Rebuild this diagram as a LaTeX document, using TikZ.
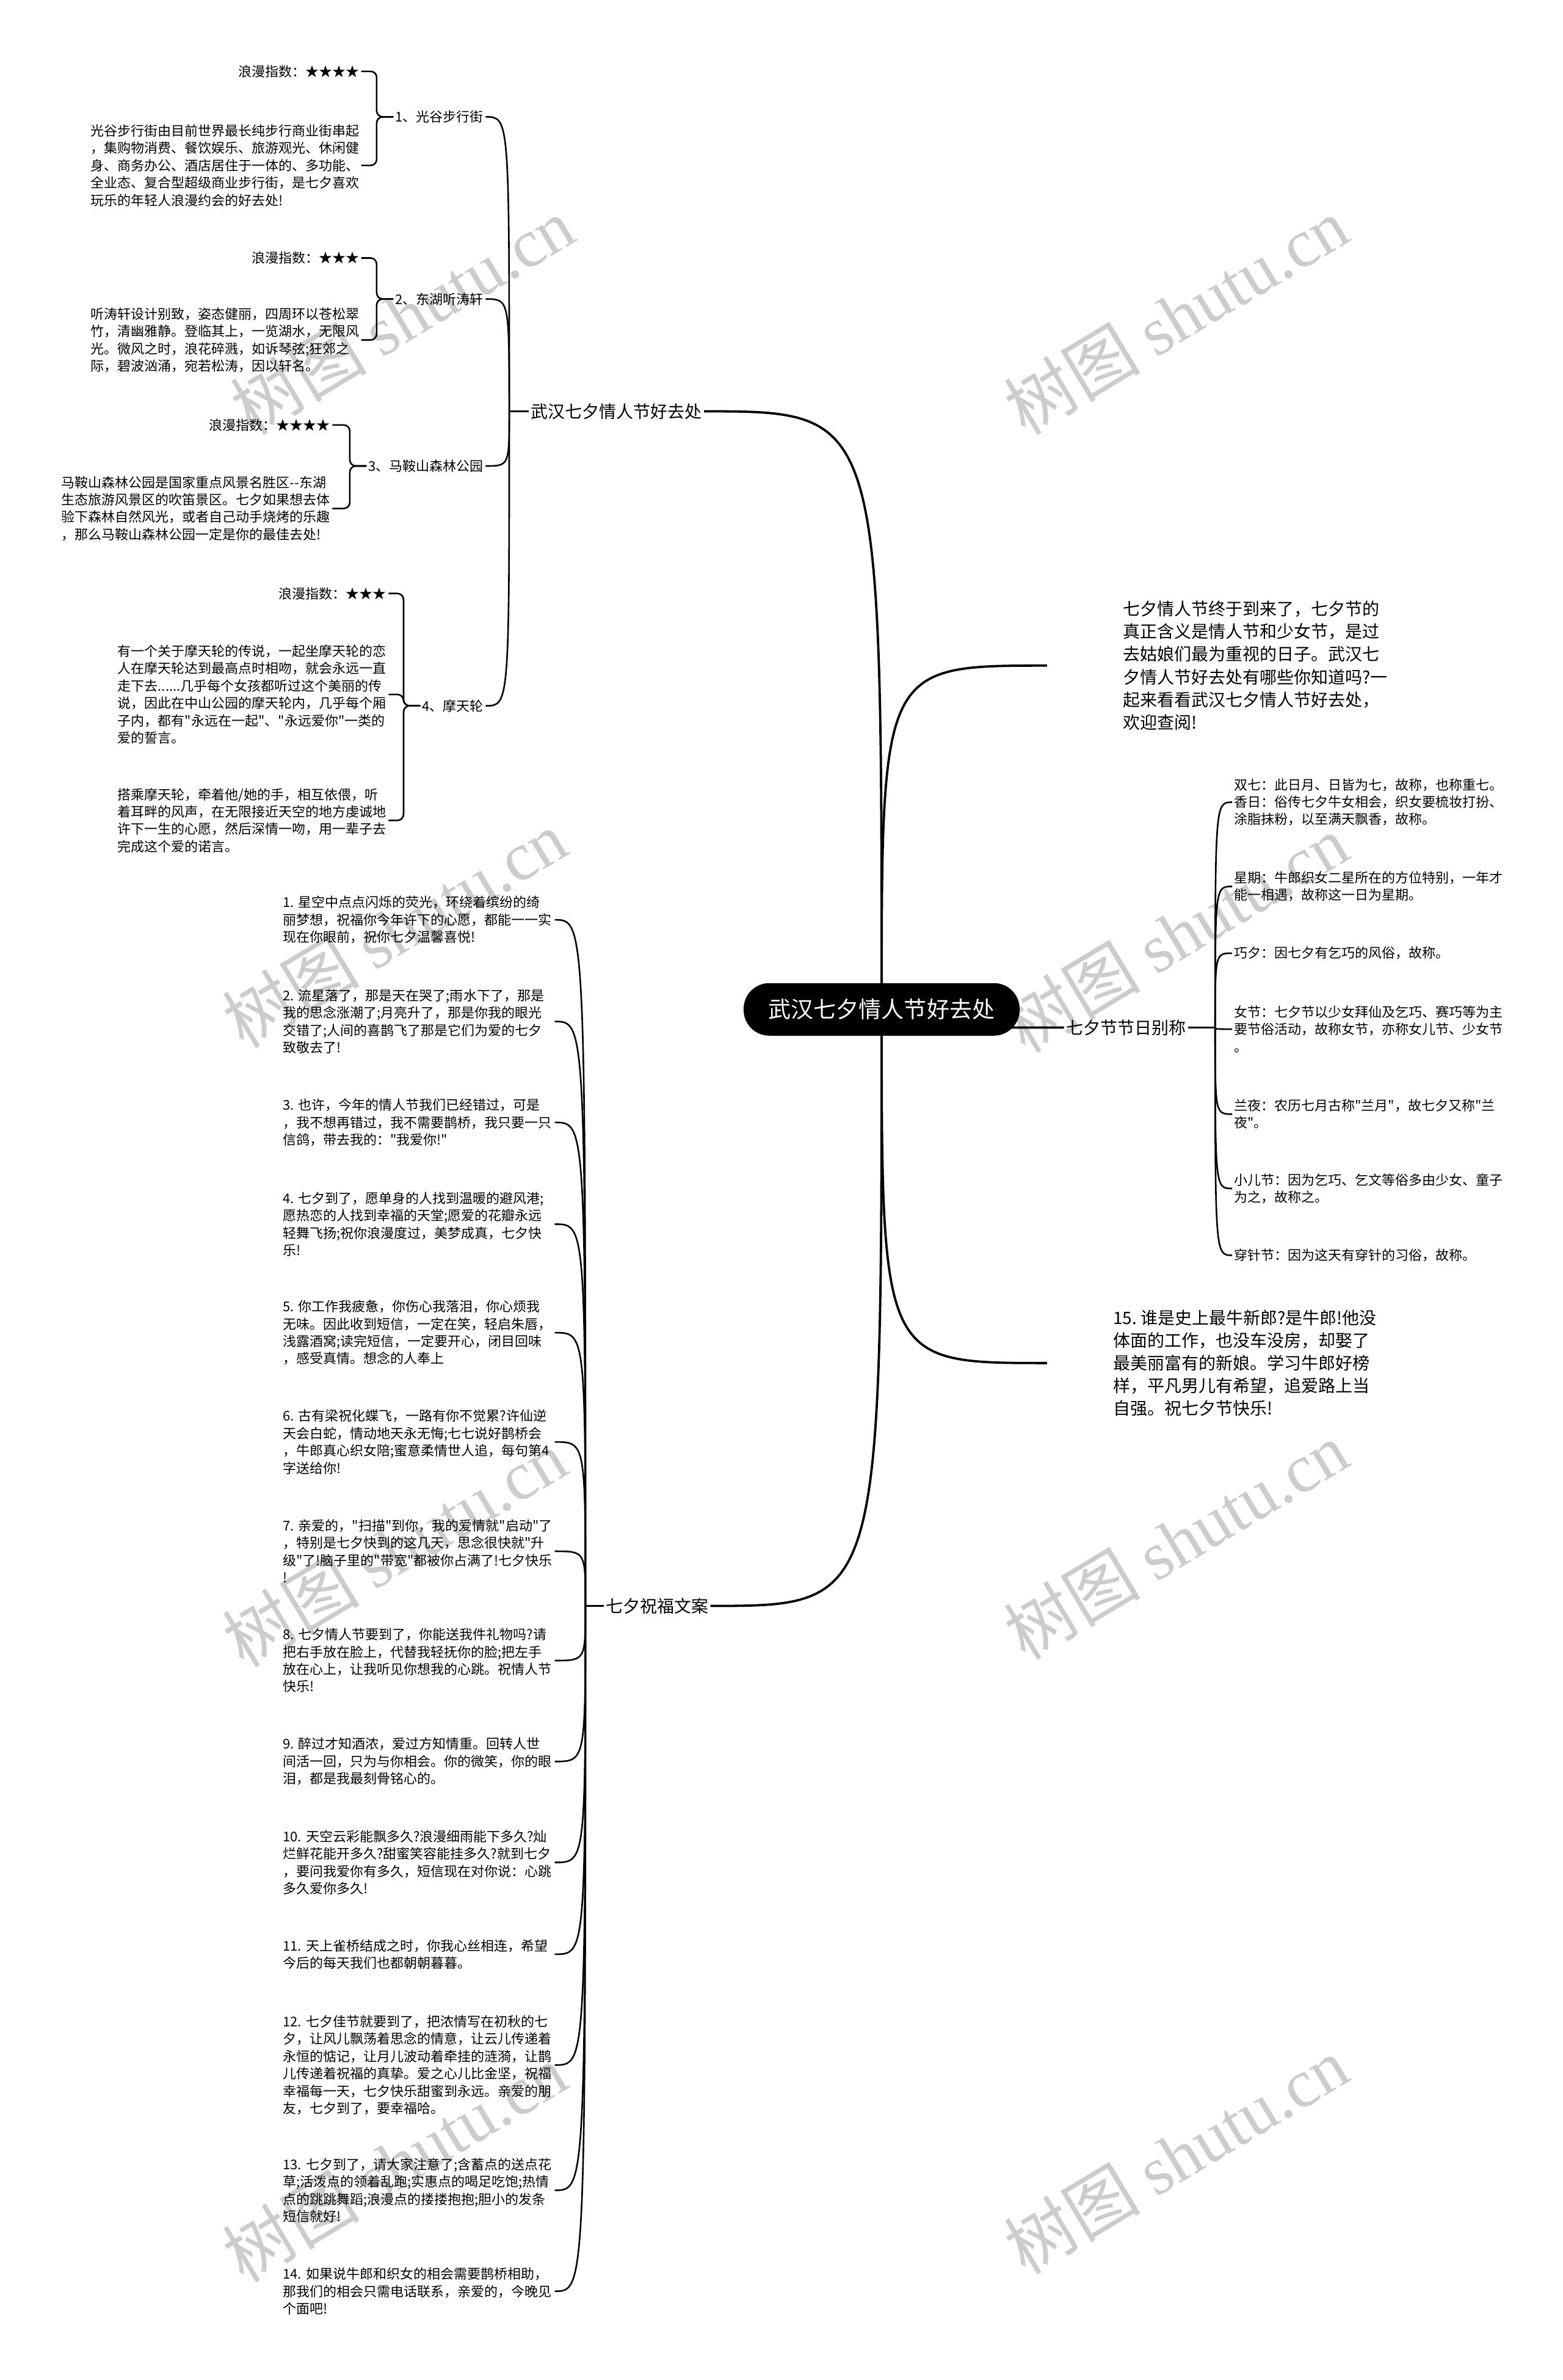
\documentclass[tikz,border=0pt]{standalone}
\usepackage{fontspec}
\setmainfont{Noto Sans CJK SC}[Ligatures=TeXOff]
\newfontfamily\wmlatin{Liberation Serif}
\usetikzlibrary{calc,backgrounds}

\begin{document}
\begin{tikzpicture}[x=1.2425pt, y=-1.2425pt,
  root/.style={fill=black, text=white, rounded corners=21pt, minimum width=226pt,
    minimum height=43pt, inner sep=0pt, font=\fontsize{18.5pt}{22pt}\selectfont},
  lvone/.style={align=left, inner sep=1.5pt, font=\fontsize{14pt}{18.6pt}\selectfont},
  leaf/.style={align=left, inner sep=1.5pt, font=\fontsize{11pt}{14.2pt}\selectfont},
  wish/.style={leaf, anchor=west, text width=221pt},
  mainline/.style={line width=1.9pt},
  subline/.style={line width=1.3pt},
  bracket/.style={line width=1.3pt, rounded corners=5pt},
  wmark/.style={text=black!20, rotate=31, font=\fontsize{56pt}{60pt}\selectfont}]
\useasboundingbox (0,0) rectangle (1030,1568);

%%%%% Root %%%%%
\node[root] (root) at (581,665) {武汉七夕情人节好去处};

%%%%% Left top: places %%%%%
\node[lvone, anchor=east] (wh) at (464,271) {武汉七夕情人节好去处};

\node[leaf, anchor=east] (g1) at (320,77) {1、光谷步行街};
\node[leaf, anchor=east] (r1s) at (238,47) {浪漫指数：★★★★};
\node[leaf, anchor=east] (r1t) at (238,109) {光谷步行街由目前世界最长纯步行商业街串起\\，集购物消费、餐饮娱乐、旅游观光、休闲健\\身、商务办公、酒店居住于一体的、多功能、\\全业态、复合型超级商业步行街，是七夕喜欢\\玩乐的年轻人浪漫约会的好去处!};

\node[leaf, anchor=east] (g2) at (320,197) {2、东湖听涛轩};
\node[leaf, anchor=east] (r2s) at (238,170) {浪漫指数：★★★};
\node[leaf, anchor=east] (r2t) at (238,224) {听涛轩设计别致，姿态健丽，四周环以苍松翠\\竹，清幽雅静。登临其上，一览湖水，无限风\\光。微风之时，浪花碎溅，如诉琴弦;狂郊之\\际，碧波汹涌，宛若松涛，因以轩名。};

\node[leaf, anchor=east] (g3) at (320,307) {3、马鞍山森林公园};
\node[leaf, anchor=east] (r3s) at (219,280) {浪漫指数：★★★★};
\node[leaf, anchor=east] (r3t) at (219,335) {马鞍山森林公园是国家重点风景名胜区-{}-东湖\\生态旅游风景区的吹笛景区。七夕如果想去体\\验下森林自然风光，或者自己动手烧烤的乐趣\\，那么马鞍山森林公园一定是你的最佳去处!};

\node[leaf, anchor=east] (g4) at (320,465) {4、摩天轮};
\node[leaf, anchor=east] (r4s) at (256,391) {浪漫指数：★★★};
\node[leaf, anchor=east] (r4a) at (256,457.5) {有一个关于摩天轮的传说，一起坐摩天轮的恋\\人在摩天轮达到最高点时相吻，就会永远一直\\走下去......几乎每个女孩都听过这个美丽的传\\说，因此在中山公园的摩天轮内，几乎每个厢\\子内，都有"永远在一起"、"永远爱你"一类的\\爱的誓言。};
\node[leaf, anchor=east] (r4b) at (256,540.5) {搭乘摩天轮，牵着他/她的手，相互依偎，听\\着耳畔的风声，在无限接近天空的地方虔诚地\\许下一生的心愿，然后深情一吻，用一辈子去\\完成这个爱的诺言。};

%%%%% Right: intro, names, wish 15 %%%%%
\node[lvone, anchor=west, inner xsep=62pt] (intro) at (690,438.5) {七夕情人节终于到来了，七夕节的\\真正含义是情人节和少女节，是过\\去姑娘们最为重视的日子。武汉七\\夕情人节好去处有哪些你知道吗?一\\起来看看武汉七夕情人节好去处，\\欢迎查阅!};

\node[lvone] (alias) at (742,677) {七夕节节日别称};
\node[leaf, anchor=west] (n1) at (812,528.5) {双七：此日月、日皆为七，故称，也称重七。\\香日：俗传七夕牛女相会，织女要梳妆打扮、\\涂脂抹粉，以至满天飘香，故称。};
\node[leaf, anchor=west] (n2) at (812,584) {星期：牛郎织女二星所在的方位特别，一年才\\能一相遇，故称这一日为星期。};
\node[leaf, anchor=west] (n3) at (812,628) {巧夕：因七夕有乞巧的风俗，故称。};
\node[leaf, anchor=west] (n4) at (812,678) {女节：七夕节以少女拜仙及乞巧、赛巧等为主\\要节俗活动，故称女节，亦称女儿节、少女节\\。};
\node[leaf, anchor=west] (n5) at (812,734) {兰夜：农历七月古称"兰月"，故七夕又称"兰\\夜"。};
\node[leaf, anchor=west] (n6) at (812,783) {小儿节：因为乞巧、乞文等俗多由少女、童子\\为之，故称之。};
\node[leaf, anchor=west] (n7) at (812,827) {穿针节：因为这天有穿针的习俗，故称。};

\node[lvone, anchor=west, inner xsep=54pt] (niu) at (690,898) {15.~谁是史上最牛新郎?是牛郎!他没\\体面的工作，也没车没房，却娶了\\最美丽富有的新娘。学习牛郎好榜\\样，平凡男儿有希望，追爱路上当\\自强。祝七夕节快乐!};

%%%%% Left bottom: wishes %%%%%
\node[lvone] (wish) at (433,1058) {七夕祝福文案};
\node[wish] (w1) at (185,606) {1.~星空中点点闪烁的荧光，环绕着缤纷的绮\\丽梦想，祝福你今年许下的心愿，都能一一实\\现在你眼前，祝你七夕温馨喜悦!};
\node[wish] (w2) at (185,673) {2.~流星落了，那是天在哭了;雨水下了，那是\\我的思念涨潮了;月亮升了，那是你我的眼光\\交错了;人间的喜鹊飞了那是它们为爱的七夕\\致敬去了!};
\node[wish] (w3) at (185,739.5) {3.~也许，今年的情人节我们已经错过，可是\\，我不想再错过，我不需要鹊桥，我只要一只\\信鸽，带去我的："我爱你!"};
\node[wish] (w4) at (185,806.5) {4.~七夕到了，愿单身的人找到温暖的避风港;\\愿热恋的人找到幸福的天堂;愿爱的花瓣永远\\轻舞飞扬;祝你浪漫度过，美梦成真，七夕快\\乐!};
\node[wish] (w5) at (185,878) {5.~你工作我疲惫，你伤心我落泪，你心烦我\\无味。因此收到短信，一定在笑，轻启朱唇，\\浅露酒窝;读完短信，一定要开心，闭目回味\\，感受真情。想念的人奉上};
\node[wish] (w6) at (185,950) {6.~古有梁祝化蝶飞，一路有你不觉累?许仙逆\\天会白蛇，情动地天永无悔;七七说好鹊桥会\\，牛郎真心织女陪;蜜意柔情世人追，每句第4\\字送给你!};
\node[wish] (w7) at (185,1022) {7.~亲爱的，"扫描"到你，我的爱情就"启动"了\\，特别是七夕快到的这几天，思念很快就"升\\级"了!脑子里的"带宽"都被你占满了!七夕快乐\\!};
\node[wish] (w8) at (185,1094) {8.~七夕情人节要到了，你能送我件礼物吗?请\\把右手放在脸上，代替我轻抚你的脸;把左手\\放在心上，让我听见你想我的心跳。祝情人节\\快乐!};
\node[wish] (w9) at (185,1160.5) {9.~醉过才知酒浓，爱过方知情重。回转人世\\间活一回，只为与你相会。你的微笑，你的眼\\泪，都是我最刻骨铭心的。};
\node[wish] (w10) at (185,1227) {10.~天空云彩能飘多久?浪漫细雨能下多久?灿\\烂鲜花能开多久?甜蜜笑容能挂多久?就到七夕\\，要问我爱你有多久，短信现在对你说：心跳\\多久爱你多久!};
\node[wish] (w11) at (185,1287.5) {11.~天上雀桥结成之时，你我心丝相连，希望\\今后的每天我们也都朝朝暮暮。};
\node[wish] (w12) at (185,1360.5) {12.~七夕佳节就要到了，把浓情写在初秋的七\\夕，让风儿飘荡着思念的情意，让云儿传递着\\永恒的惦记，让月儿波动着牵挂的涟漪，让鹊\\儿传递着祝福的真挚。爱之心儿比金坚，祝福\\幸福每一天，七夕快乐甜蜜到永远。亲爱的朋\\友，七夕到了，要幸福哈。};
\node[wish] (w13) at (185,1443) {13.~七夕到了，请大家注意了;含蓄点的送点花\\草;活泼点的领着乱跑;实惠点的喝足吃饱;热情\\点的跳跳舞蹈;浪漫点的搂搂抱抱;胆小的发条\\短信就好!};
\node[wish] (w14) at (185,1509.5) {14.~如果说牛郎和织女的相会需要鹊桥相助，\\那我们的相会只需电话联系，亲爱的，今晚见\\个面吧!};

\begin{scope}[on background layer]
\fill[white] (0,0) rectangle (1030,1568);
%%%%% Watermarks %%%%%
\foreach \wx/\wy in {265/208, 775/208, 260/612, 775/615, 260/1020, 775/1015, 260/1425, 775/1420}{
  \node[wmark] at (\wx,\wy) {树图 {\wmlatin shutu.cn}};
}
%%%%% Root lines %%%%%
\draw[mainline] (root.center) .. controls (root.center |- wh.east) .. (wh.east);
\draw[mainline] (root.center) .. controls (root.center |- intro.west) .. (intro.west);
\draw[mainline] (root.center) .. controls (root.center |- alias.west) .. (alias.west);
\draw[mainline] (root.center) .. controls (root.center |- niu.west) .. (niu.west);
\draw[mainline] (root.center) .. controls (root.center |- wish.east) .. (wish.east);

%%%%% Level one lines %%%%%
\coordinate (whj) at ($(wh.west)+(-13,0)$);
\draw[subline] (wh.west) -- (whj);
\foreach \g in {g1,g2,g3,g4}{
  \draw[subline] (whj) .. controls (whj |- \g.east) .. (\g.east);
}
\coordinate (alj) at ($(alias.east)+(18,0)$);
\draw[subline] (alias.east) -- (alj);
\foreach \n in {n1,n2,n3,n4,n5,n6,n7}{
  \draw[subline] (alj) .. controls (alj |- \n.west) .. (\n.west);
}
\coordinate (wij) at ($(wish.west)+(-12,0)$);
\draw[subline] (wish.west) -- (wij);
\foreach \i in {1,...,14}{
  \draw[subline] (wij) .. controls (wij |- w\i.east) .. (w\i.east);
}

%%%%% Brackets %%%%%
\draw[bracket] (g1.west) -- ++(-11,0) |- (r1s.east);
\draw[bracket] (g1.west) -- ++(-11,0) |- (r1t.east);
\draw[bracket] (g2.west) -- ++(-11,0) |- (r2s.east);
\draw[bracket] (g2.west) -- ++(-11,0) |- (r2t.east);
\draw[bracket] (g3.west) -- ++(-11,0) |- (r3s.east);
\draw[bracket] (g3.west) -- ++(-11,0) |- (r3t.east);
\draw[bracket] (g4.west) -- ++(-11,0) |- (r4s.east);
\draw[bracket] (g4.west) -- ++(-11,0) |- (r4a.east);
\draw[bracket] (g4.west) -- ++(-11,0) |- (r4b.east);
\end{scope}
\end{tikzpicture}
\end{document}
